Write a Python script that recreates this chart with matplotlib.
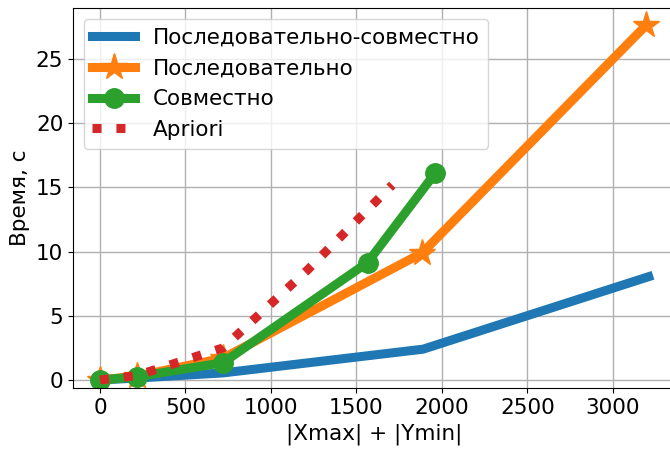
import numpy as np
import matplotlib
matplotlib.use('Agg')
import matplotlib.pyplot as plt

# размер задачи |Xmax| + |Ymin| и время работы, с
x_seq_joint = [0, 216, 720, 1890, 3210]
t_seq_joint = [0, 0.15, 0.55, 2.4, 8.05]

x_seq = [0, 216, 720, 1885, 3195]
t_seq = [0, 0.3, 1.7, 9.9, 27.65]

x_joint = [0, 216, 720, 1565, 1960]
t_joint = [0, 0.25, 1.35, 9.15, 16.1]

x_apriori = [0, 216, 720, 1216, 1710]
t_apriori = [0, 0.35, 2.5, 8.6, 15.2]

plt.rcParams['font.size'] = 15.5

fig = plt.figure(figsize=(6.7, 4.58), dpi=100)
ax = fig.add_axes([0.109, 0.153, 0.9, 0.829])

ax.plot(x_seq_joint, t_seq_joint, color='C0', linewidth=6.5, label='Последовательно-совместно')
ax.plot(x_seq, t_seq, color='C1', linewidth=6.5, marker='*', markersize=20, label='Последовательно')
ax.plot(x_joint, t_joint, color='C2', linewidth=6.5, marker='o', markersize=14, label='Совместно')
ax.plot(x_apriori, t_apriori, color='C3', linewidth=6.5, linestyle=':', label='Apriori')

ax.set_xlim(-158, 3370)
ax.set_ylim(-0.62, 28.97)
ax.grid(True, linewidth=1)
ax.set_xlabel('|Xmax| + |Ymin|')
ax.set_ylabel('Время, с')
ax.legend(loc='upper left')

plt.savefig('out.png')
